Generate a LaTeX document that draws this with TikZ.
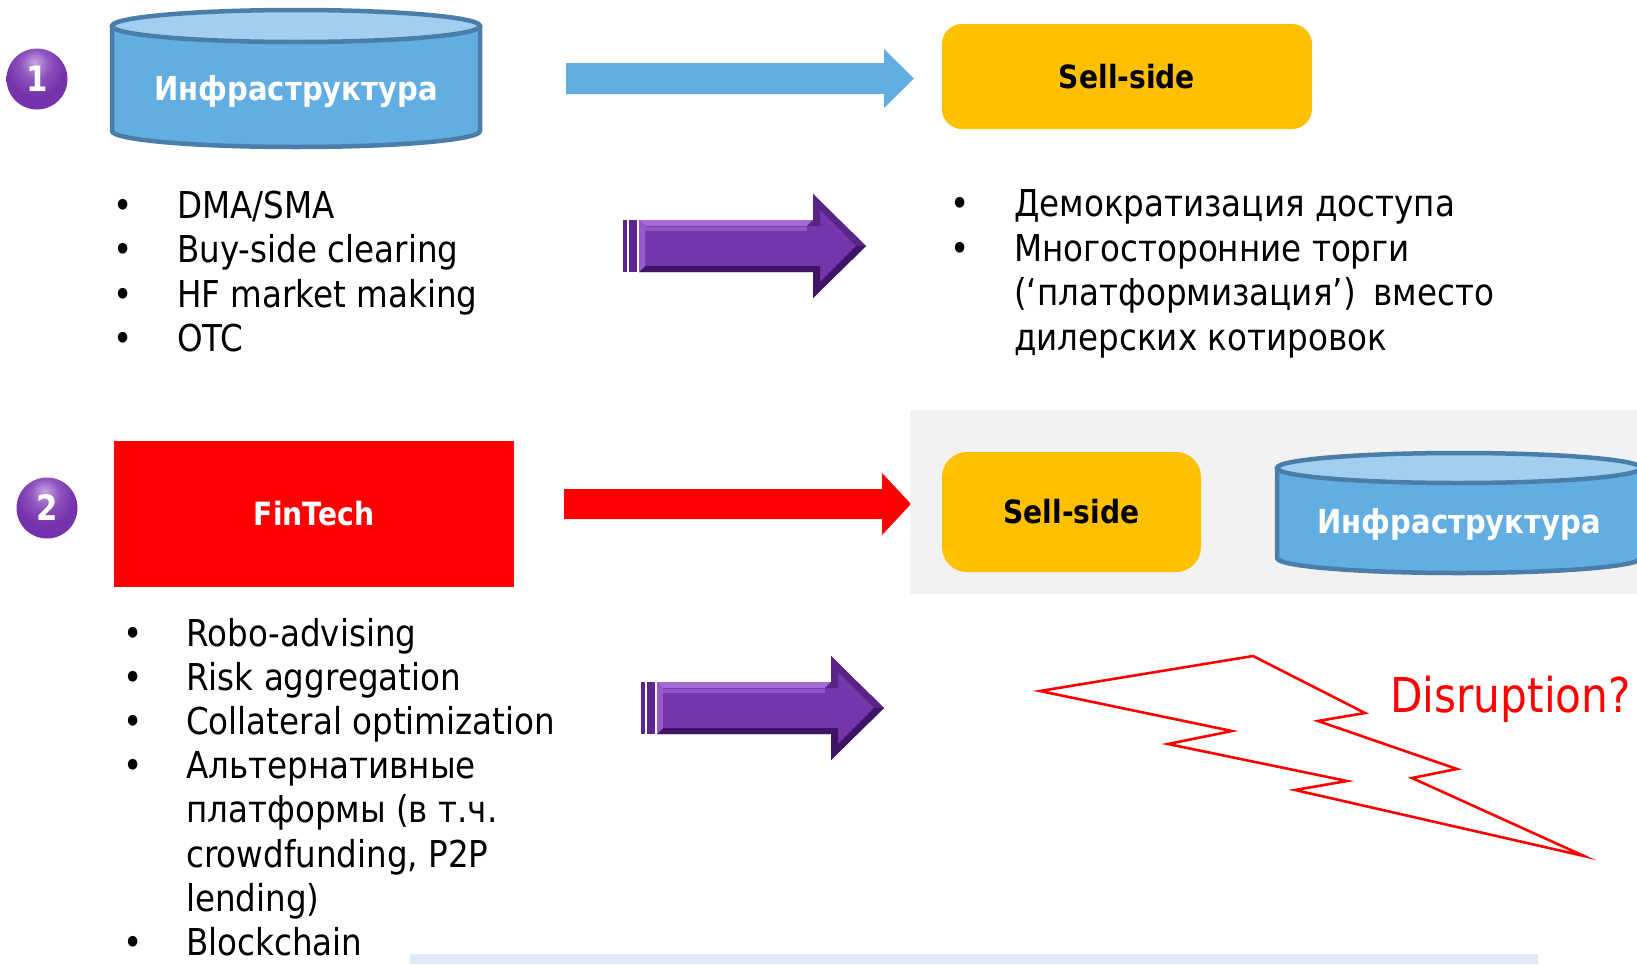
\documentclass[tikz,border=0pt]{standalone}
\usepackage{fontspec}
\setmainfont{DejaVu Sans}[FakeStretch=0.88]

\definecolor{infrafill}{HTML}{62AEE2}
\definecolor{infratop}{HTML}{A2CFEF}
\definecolor{infraline}{HTML}{4A7EA8}
\definecolor{sellfill}{HTML}{FFC000}
\definecolor{arrowblue}{HTML}{62AEE2}
\definecolor{fintechred}{HTML}{FF0000}
\definecolor{panelgrey}{HTML}{F2F2F2}
\definecolor{stripblue}{HTML}{DEEBF7}
\definecolor{ballhi}{HTML}{C8A4E6}
\definecolor{ballmain}{HTML}{7632AC}
\definecolor{balledge}{HTML}{481870}
\definecolor{purplemain}{HTML}{7535AB}
\definecolor{purplelight}{HTML}{A46BD4}
\definecolor{purplemid}{HTML}{5A2486}
\definecolor{purpledark}{HTML}{3F1466}
\definecolor{purplestripe}{HTML}{5E2790}

% glossy sphere for the step numbers
\pgfdeclareradialshading{purplesphere}{\pgfpoint{-2bp}{14bp}}{%
  color(0bp)=(ballhi); color(12bp)=(ballmain!70!ballhi); color(24bp)=(ballmain);
  color(44bp)=(ballmain); color(56bp)=(balledge); color(80bp)=(balledge)}

\newcommand\bodysize{\fontsize{37}{44.5}\selectfont}

% drum-shaped "infrastructure" block: name, centre x, top y, bottom y, rx, ry, label baseline
\newcommand\infradrum[7]{%
  \path[infrabody] (#2-#5,#3) -- (#2-#5,#4)
    arc[start angle=180,end angle=360,x radius=#5pt,y radius=#6pt]
    -- (#2+#5,#3) -- cycle;
  \path[infracap] (#2,#3) ellipse[x radius=#5pt,y radius=#6pt];
  \node[infralabel] (#1) at (#2,#7) {Инфраструктура};
}

% bevelled purple block arrow, shifted by (#1,#2)
\newcommand\purplearrow[2]{%
  \begin{scope}[shift={(#1,#2)}]
    \fill[purplestripe] (623,220) rectangle (627,272);
    \fill[purplestripe] (629,220) rectangle (637,272);
    \fill[purplemain] (639,220) -- (813,220) -- (813,194) -- (866,246)
      -- (813,298) -- (813,272) -- (639,272) -- cycle;
    \fill[purplelight] (639,220) -- (813,220) -- (807,226) -- (645,226) -- cycle;
    \fill[purplelight!60!purplemain] (645,227) rectangle (807,231);
    \fill[purpledark] (639,272) -- (813,272) -- (807,266) -- (645,266) -- cycle;
    \fill[purplelight!70!purplemain] (639,220) -- (645,226) -- (645,266) -- (639,272) -- cycle;
    \fill[purplemid] (813,194) -- (866,246) -- (856,246) -- (820,210) -- (820,226)
      -- (807,226) -- (813,220) -- cycle;
    \fill[purpledark] (866,246) -- (813,298) -- (813,272) -- (807,266) -- (820,266)
      -- (820,282) -- (856,246) -- cycle;
  \end{scope}
}

\begin{document}
\begin{tikzpicture}[x=1pt,y=-1pt,
  numball/.style={circle, minimum size=61pt, inner sep=0pt, shading=purplesphere,
    text=white, font=\bfseries\fontsize{35}{35}\selectfont},
  sellbox/.style={fill=sellfill, rounded corners=20pt, inner sep=0pt,
    text=black, font=\bfseries\fontsize{32}{32}\selectfont},
  fintechbox/.style={fill=fintechred, inner sep=0pt,
    text=white, font=\bfseries\fontsize{32}{32}\selectfont},
  infrabody/.style={fill=infrafill, draw=infraline, line width=4.5pt, line join=round},
  infracap/.style={fill=infratop, draw=infraline, line width=4.5pt},
  infralabel/.style={anchor=base, inner sep=0pt, text=white,
    font=\bfseries\fontsize{33}{33}\selectfont},
  item/.style={anchor=base west, inner sep=0pt, font=\bodysize},
  bul/.style={anchor=base, inner sep=0pt, font=\bodysize},
  bolt/.style={draw=red, line width=2.6pt, line join=miter}
]
\useasboundingbox (0,0) rectangle (1637,964);
\clip (0,0) rectangle (1637,964);
\fill[white] (0,0) rectangle (1637,964);

% ---------- row 1 ----------
\node[numball] (n1) at (37,79) {1};
\infradrum{infra1}{296}{26}{131}{184}{16}{100}
\fill[arrowblue] (566,63) -- (884,63) -- (884,49) -- (914,78.5) -- (884,108)
  -- (884,94) -- (566,94) -- cycle;
\node[sellbox, minimum width=370pt, minimum height=105pt] (sell1) at (1127,76.5) {Sell-side};

\foreach \t [count=\i from 0] in {DMA/SMA, Buy-side clearing, HF market making, OTC} {
  \node[bul] (b1-\i) at (123,218+44.5*\i) {•};
  \node[item] (l1-\i) at (177,218+44.5*\i) {\t};
}
\purplearrow{0}{0}

\foreach \i in {0,1} {\node[bul] (b2-\i) at (960,216.5+44.5*\i) {•};}
\foreach \t [count=\i from 0] in {Демократизация доступа, Многосторонние торги,
    {(‘платформизация’)\hspace{18pt}вместо}, дилерских котировок} {
  \node[item] (r1-\i) at (1014,216.5+44.5*\i) {\t};
}

% ---------- row 2 ----------
\node[numball] (n2) at (47,508) {2};
\node[fintechbox, minimum width=400pt, minimum height=146pt] (fintech) at (314,514) {FinTech};
\fill[fintechred] (564,489) -- (882,489) -- (882,473) -- (911,504) -- (882,535)
  -- (882,519) -- (564,519) -- cycle;

\node[fill=panelgrey, minimum width=740pt, minimum height=184pt, inner sep=0pt,
  anchor=north west] (panel) at (910,410) {};
\node[sellbox, rounded corners=25pt, minimum width=259pt, minimum height=120pt]
  (sell2) at (1071.5,512) {Sell-side};
\infradrum{infra2}{1459}{468}{558}{182}{15}{533}

\foreach \i in {0,1,2,3,7} {\node[bul] (b3-\i) at (133,646+44.2*\i) {•};}
\foreach \t [count=\i from 0] in {Robo-advising, Risk aggregation, Collateral optimization,
    Альтернативные, платформы (в т.ч., {crowdfunding, P2P}, lending), Blockchain} {
  \node[item] (l2-\i) at (186,646+44.2*\i) {\t};
}
\purplearrow{18}{462}

% lightning bolt
\draw[bolt] (1040,691) -- (1253,656) -- (1365,713) -- (1318,721) -- (1457,769)
  -- (1412,778) -- (1584,856) -- (1295,790) -- (1347,781) -- (1168,744)
  -- (1232,731) -- cycle;
\node[anchor=base west, inner sep=0pt, text=red, font=\fontsize{48}{48}\selectfont]
  (disruption) at (1390,712) {Disruption?};

\fill[stripblue] (410,954) rectangle (1538,964);
\end{tikzpicture}
\end{document}
